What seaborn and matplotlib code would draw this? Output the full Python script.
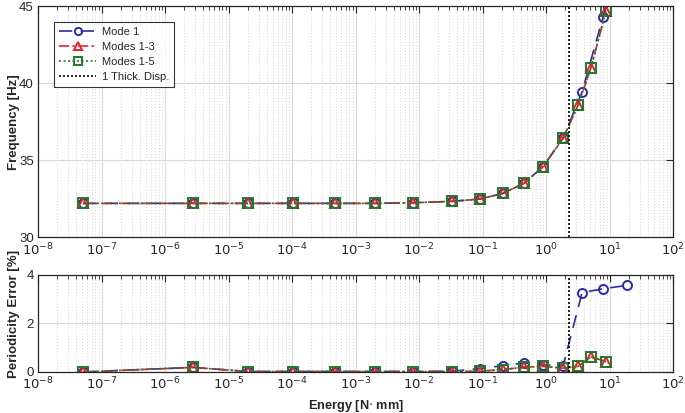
import numpy as np
import pandas as pd
import matplotlib
matplotlib.use("Agg")
import matplotlib.pyplot as plt
import seaborn as sns
from matplotlib.ticker import NullFormatter

# energy values [N mm]
energy_m1 = [5.1e-8, 2.75e-6, 2.0e-5, 1.04e-4, 4.8e-4, 2.0e-3, 8.1e-3, 0.033,
             0.091, 0.21, 0.45, 0.89, 1.86, 3.7, 7.9, 19.0]
energy_m5 = [5.1e-8, 2.75e-6, 2.0e-5, 1.04e-4, 4.8e-4, 2.0e-3, 8.1e-3, 0.033,
             0.091, 0.21, 0.45, 0.89, 1.86, 3.2, 5.1, 8.8]

# frequency [Hz]
freq_m1 = [32.19, 32.19, 32.19, 32.19, 32.19, 32.19, 32.23, 32.32,
           32.47, 32.84, 33.49, 34.56, 36.43, 39.43, 44.3, 49.5]
freq_m3 = [32.19, 32.19, 32.19, 32.19, 32.19, 32.19, 32.23, 32.32,
           32.47, 32.84, 33.49, 34.56, 36.43, 38.57, 40.99, 44.7]
freq_m5 = freq_m3

# periodicity error [%]
err_m1 = [0.0, 0.19, 0.02, 0.02, 0.02, 0.02, 0.02, 0.03,
          0.14, 0.26, 0.37, 0.29, 0.26, 3.27, 3.43, 3.57]
err_m3 = [0.0, 0.19, 0.02, 0.02, 0.02, 0.02, 0.02, 0.02,
          0.03, 0.1, 0.2, 0.23, 0.16, 0.23, 0.62, 0.43]
err_m5 = err_m3

thick_disp = 2.3

x_decades = list(range(-8, 3))
x_ticklabels = [f"$10^{{{d}}}$" for d in x_decades]

series = [
    ("Mode 1", energy_m1, freq_m1, err_m1, "#2b2ba8", "o", (0, (8, 5))),
    ("Modes 1-3", energy_m5, freq_m3, err_m3, "#e8202a", "^", (0, (6, 2, 1.5, 2))),
    ("Modes 1-5", energy_m5, freq_m5, err_m5, "#1f7a2a", "s", (0, (1.2, 1.5))),
]

sns.set_style("white")
plt.rcParams["font.family"] = ["Liberation Sans", "DejaVu Sans"]
plt.rcParams["font.size"] = 9.5

fig = plt.figure(figsize=(6.85, 4.13), dpi=100)
ax1 = fig.add_axes([0.0555, 0.426, 0.927, 0.559])
ax2 = fig.add_axes([0.0555, 0.0993, 0.927, 0.235])

major = [10.0 ** d for d in x_decades]
minor = [m * 10.0 ** d for d in x_decades[:-1] for m in range(2, 10)]

for ax, key in [(ax1, "freq"), (ax2, "err")]:
    for name, e, f, er, col, mk, ls in series:
        df = pd.DataFrame({"energy": e, "val": f if key == "freq" else er})
        sns.lineplot(data=df, x="energy", y="val", ax=ax, color=col, marker=mk,
                     markersize=6.5, markerfacecolor="none", markeredgecolor=col,
                     markeredgewidth=1.4, linewidth=1.2, linestyle=ls,
                     label=name, legend=False)
    ax.axvline(thick_disp, color="black", linestyle=(0, (1.2, 1.2)),
               linewidth=1.2, label="1 Thick. Disp.")
    ax.set_xscale("log")
    ax.set_xticks(major, x_ticklabels)
    ax.set_xticks(minor, minor=True)
    ax.xaxis.set_minor_formatter(NullFormatter())
    ax.set_xlim(1e-8, 1e2)
    ax.grid(True, which="major", color="#d9d9d9", linewidth=0.8)
    ax.grid(True, which="minor", axis="x", color="#d9d9d9", linestyle=":", linewidth=0.8)
    ax.tick_params(which="both", direction="in", top=True, right=True, colors="#262626",
                   labelcolor="#262626", pad=3)
    ax.tick_params(which="major", length=5)
    ax.tick_params(which="minor", length=3)
    for sp in ax.spines.values():
        sp.set_color("#262626")
        sp.set_linewidth(0.9)
    ax.set_axisbelow(True)

ax1.set_ylim(30, 45)
ax1.set_yticks([30, 35, 40, 45])
ax1.set_xlabel("")
ax1.set_ylabel("Frequency [Hz]", fontweight="bold")
ax1.yaxis.set_label_coords(-0.029, 0.5)

ax2.set_ylim(0, 4)
ax2.set_yticks([0, 2, 4])
ax2.set_xlabel("Energy [N$\\cdot$ mm]", fontweight="bold", fontsize=9.2)
ax2.set_ylabel("Periodicity Error [%]", fontweight="bold")
ax2.yaxis.set_label_coords(-0.029, 0.6)

leg = ax1.legend(loc="upper left", bbox_to_anchor=(0.017, 0.957), fontsize=8,
                 frameon=True, fancybox=False, edgecolor="black",
                 handlelength=3.3, handletextpad=0.5, borderpad=0.45,
                 labelspacing=0.45, markerscale=0.8)
leg.get_frame().set_linewidth(0.8)

fig.savefig("out.png", dpi=100)
